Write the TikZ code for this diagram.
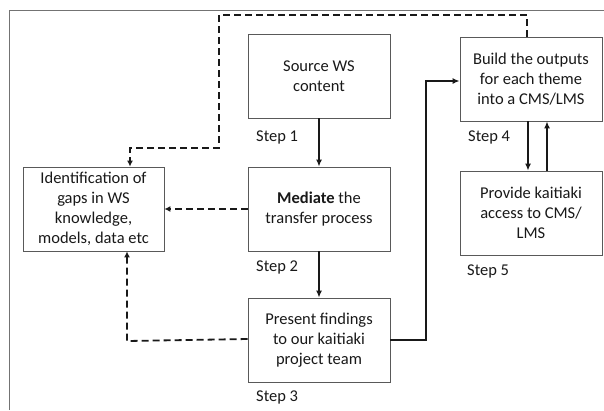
\documentclass[tikz,border=0pt]{standalone}
\usepackage{fontspec}
\setmainfont{Carlito}
\usetikzlibrary{arrows.meta}
\begin{document}
\begin{tikzpicture}[x=1pt,y=-1pt,
  box/.style={draw=black!65,line width=0.8pt,fill=white,minimum width=142pt,minimum height=84pt,inner sep=2pt,align=center,text=black!90,font=\fontsize{16.5}{20}\selectfont},
  steplbl/.style={anchor=west,inner sep=0pt,text=black!90,font=\fontsize{16.5}{20}\selectfont},
  solidarrow/.style={line width=1.6pt,black!90,-{Latex[length=7pt,width=6pt]}},
  dasharrow/.style={line width=1.8pt,black!90,dash pattern=on 7pt off 4pt,-{Latex[length=6pt,width=6pt]}},
  dashline/.style={line width=1.8pt,black!90,dash pattern=on 7pt off 4pt}]
\useasboundingbox (0,0) rectangle (604,410);
\fill[white] (0,0) rectangle (604,410);
% outer frame
\draw[black!55,line width=1pt] (9,410) -- (9,10) -- (604,10);

% boxes
\node[box] (src) at (319,76) {Source WS\\content};
\node[box] (med) at (319,209) {\textbf{Mediate} the\\transfer process};
\node[box] (pres) at (319,340) {Present findings\\to our kaitiaki\\project team};
\node[box,minimum width=141pt] (ident) at (93.5,209) {Identification of\\gaps in WS\\knowledge,\\models, data etc};
\node[box] (build) at (531,79) {Build the outputs\\for each theme\\into a CMS/LMS};
\node[box] (prov) at (531,213) {Provide kaitiaki\\access to CMS/\\LMS};

% step labels
\node[steplbl] (s1) at (256,137) {Step 1};
\node[steplbl] (s2) at (256,267) {Step 2};
\node[steplbl] (s3) at (256,397) {Step 3};
\node[steplbl] (s4) at (468,137) {Step 4};
\node[steplbl] (s5) at (467,271) {Step 5};

% solid connectors
\draw[solidarrow] (src.south) -- (med.north);
\draw[solidarrow] (med.south) -- (pres.north);
\coordinate (turn) at (426,340);
\draw[solidarrow] (pres.east) -- (turn) |- ([yshift=-2pt]build.west);
\draw[solidarrow] ([xshift=-3pt]build.south) -- ([xshift=-3pt]prov.north);
\draw[solidarrow] ([xshift=16pt]prov.north) -- ([xshift=16pt]build.south);

% dashed connectors
\coordinate (d1) at (527,15);
\coordinate (d2) at (219,15);
\coordinate (d3) at (219,148);
\coordinate (d4) at (130,148);
\draw[dasharrow] ([xshift=-4pt]build.north) -- (d1) -- (d2) -- (d3) -- (d4) -- ([xshift=36.5pt]ident.north);
\draw[dasharrow] (med.west) -- (ident.east);
\coordinate (d5) at (127,341);
\draw[dasharrow] ([yshift=1pt]pres.west) -- (d5) -- ([xshift=33.5pt]ident.south);
\end{tikzpicture}
\end{document}
